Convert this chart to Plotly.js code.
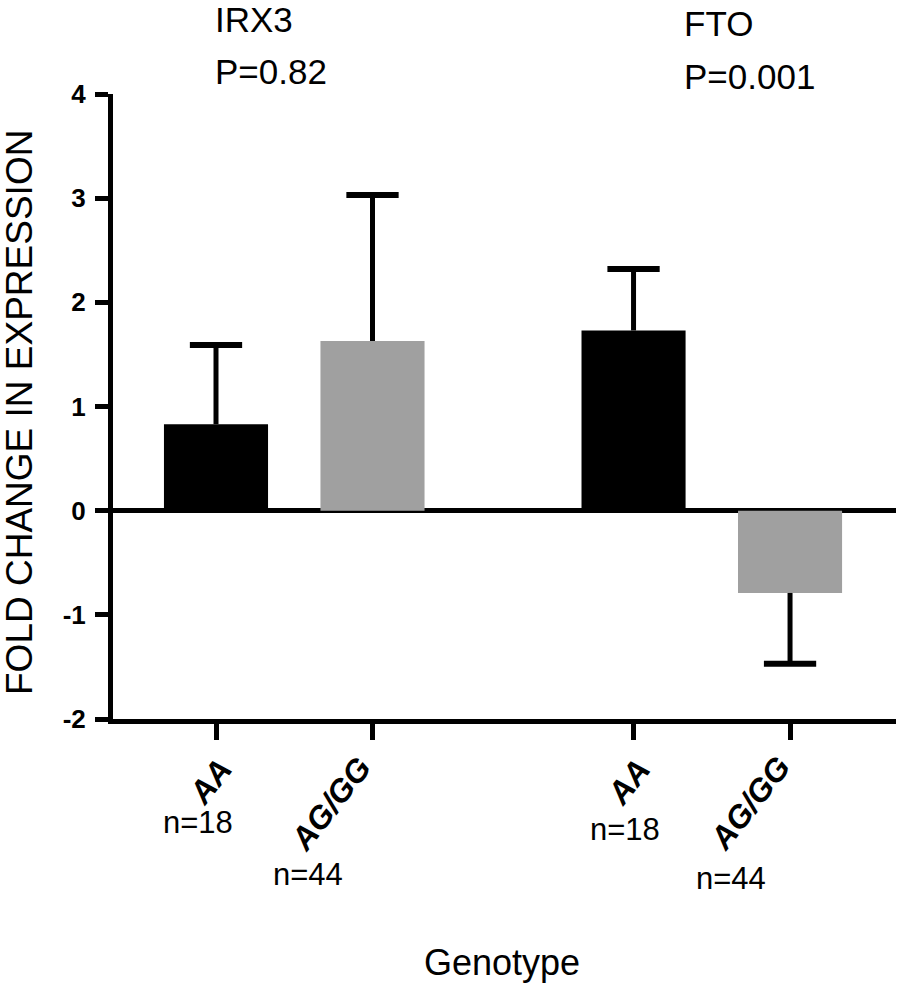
<!DOCTYPE html>
<html>
<head>
<meta charset="utf-8">
<script src="https://cdn.plot.ly/plotly-3.0.1.min.js"></script>
<style>
  html, body { margin: 0; padding: 0; background: #ffffff; }
  #chart { width: 898px; height: 987px; }
</style>
</head>
<body>
<div id="chart"></div>
<script>
// ---- data ----
const groups = ['IRX3', 'FTO'];
const groupPValues = ['P=0.82', 'P=0.001'];
const genotypes = ['AA', 'AG/GG'];
const aaCounts = ['n=18', 'n=18'];
const agCounts = ['n=44', 'n=44'];
const aaValues = [0.83, 1.73];
const aaErrors = [0.76, 0.59];
const agValues = [1.63, -0.79];
const agErrors = [1.40, 0.68];
const yTickValues = [-2, -1, 0, 1, 2, 3, 4];
const yTickLabels = ['-2', '-1', '0', '1', '2', '3', '4'];
const yTitle = 'FOLD CHANGE IN EXPRESSION';
const xTitle = 'Genotype';

// ---- layout helpers ----
const W = 898, H = 987;
const M = { l: 113, r: 2, t: 94, b: 268 };
const PW = W - M.l - M.r, PH = H - M.t - M.b;
const px2paperX = p => (p - M.l) / PW;
const px2paperY = p => (H - M.b - p) / PH;
const GROUP_STEP = 2.668;
const BAR_W = 0.665;
const CAP_HALF = 0.167;
const FONT = 'Arial, "Liberation Sans", sans-serif';

const xAA = groups.map((g, i) => i * GROUP_STEP);
const xAG = groups.map((g, i) => i * GROUP_STEP + 1);

function errorLines(xs, vals, errs) {
  const stemX = [], stemY = [], capX = [], capY = [];
  xs.forEach((x, i) => {
    const v = vals[i];
    const end = v >= 0 ? v + errs[i] : v - errs[i];
    stemX.push(x, x, null); stemY.push(v, end, null);
    capX.push(x - CAP_HALF, x + CAP_HALF, null); capY.push(end, end, null);
  });
  return { stemX, stemY, capX, capY };
}
const eAA = errorLines(xAA, aaValues, aaErrors);
const eAG = errorLines(xAG, agValues, agErrors);

const traces = [
  { type: 'bar', name: genotypes[0], x: xAA, y: aaValues, width: BAR_W,
    marker: { color: '#000000', line: { width: 0 } }, hoverinfo: 'y' },
  { type: 'bar', name: genotypes[1], x: xAG, y: agValues, width: BAR_W,
    marker: { color: '#a0a0a0', line: { width: 0 } }, hoverinfo: 'y' },
  { type: 'scatter', mode: 'lines', x: eAA.stemX.concat(eAG.stemX), y: eAA.stemY.concat(eAG.stemY),
    line: { color: '#000000', width: 5 }, hoverinfo: 'skip', connectgaps: false },
  { type: 'scatter', mode: 'lines', x: eAA.capX.concat(eAG.capX), y: eAA.capY.concat(eAG.capY),
    line: { color: '#000000', width: 6 }, hoverinfo: 'skip', connectgaps: false }
];

const annotations = [];
// group names and p-values
const groupLeftPx = [213, 682];
const groupNameY = [20, 23];
const groupPY = [71, 76];
groups.forEach((g, i) => {
  annotations.push({ text: g, xref: 'paper', yref: 'paper', x: px2paperX(groupLeftPx[i]), y: px2paperY(groupNameY[i]),
    xanchor: 'left', yanchor: 'middle', showarrow: false, font: { family: FONT, size: 35, color: '#000' } });
  annotations.push({ text: groupPValues[i], xref: 'paper', yref: 'paper', x: px2paperX(groupLeftPx[i]), y: px2paperY(groupPY[i]),
    xanchor: 'left', yanchor: 'middle', showarrow: false, font: { family: FONT, size: 35, color: '#000' } });
});
// genotype tick labels (rotated, bold italic) and counts
const genoLabelShift = [[-6, -5], [-42, -40]];
const genoLabelY = [[782, 782], [804, 803]];
const countShift = [[-18, -9], [-65, -59]];
const countY = [[823, 829], [874, 878]];
[[xAA, aaCounts], [xAG, agCounts]].forEach(([xs, counts], k) => {
  xs.forEach((x, i) => {
    annotations.push({ text: '<b><i>' + genotypes[k] + '</i></b>', xref: 'x', yref: 'paper', x: x, xshift: genoLabelShift[k][i],
      y: px2paperY(genoLabelY[k][i]), xanchor: 'center', yanchor: 'middle', textangle: -52, showarrow: false,
      font: { family: FONT, size: 32, color: '#000' } });
    annotations.push({ text: counts[i], xref: 'x', yref: 'paper', x: x, xshift: countShift[k][i],
      y: px2paperY(countY[k][i]), xanchor: 'center', yanchor: 'middle', showarrow: false,
      font: { family: FONT, size: 31, color: '#000' } });
  });
});
// axis titles
annotations.push({ text: yTitle, xref: 'paper', yref: 'paper', x: px2paperX(19), y: px2paperY(413),
  xanchor: 'center', yanchor: 'middle', textangle: -90, showarrow: false, font: { family: FONT, size: 37, color: '#000' } });
annotations.push({ text: xTitle, xref: 'paper', yref: 'paper', x: px2paperX(502), y: px2paperY(962),
  xanchor: 'center', yanchor: 'middle', showarrow: false, font: { family: FONT, size: 36, color: '#000' } });

const layout = {
  width: W, height: H,
  margin: M,
  paper_bgcolor: '#ffffff', plot_bgcolor: '#ffffff',
  showlegend: false,
  barmode: 'overlay',
  xaxis: {
    range: [(M.l - 216) / 156.5, (W - M.r - 216) / 156.5],
    tickvals: xAA.concat(xAG), showticklabels: false,
    ticks: 'outside', ticklen: 16, tickwidth: 5, tickcolor: '#000',
    showline: true, linewidth: 5, linecolor: '#000',
    showgrid: false, zeroline: false, fixedrange: true
  },
  yaxis: {
    range: [-2, 4], tickvals: yTickValues, ticktext: yTickLabels,
    ticks: 'outside', ticklen: 13, tickwidth: 5, tickcolor: '#000',
    ticklabelstandoff: 4,
    tickfont: { family: FONT, size: 26, color: '#000', weight: 'bold' },
    showline: true, linewidth: 5, linecolor: '#000',
    showgrid: false, zeroline: true, zerolinewidth: 5, zerolinecolor: '#000',
    fixedrange: true
  },
  annotations: annotations
};

Plotly.newPlot('chart', traces, layout, { displayModeBar: false, staticPlot: true });
</script>
</body>
</html>
